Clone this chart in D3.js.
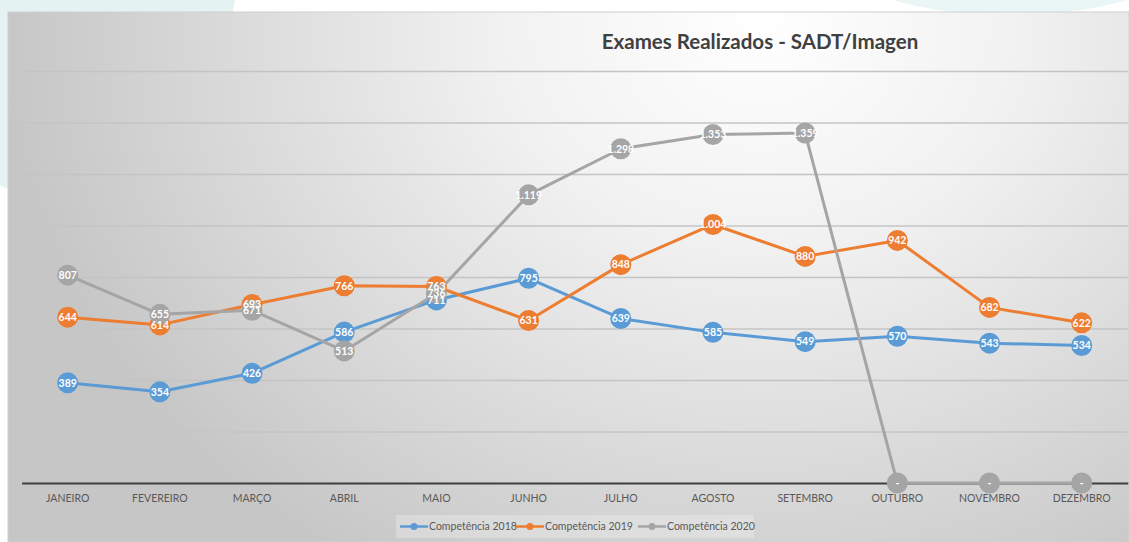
<!DOCTYPE html>
<html>
<head>
<meta charset="utf-8">
<script src="https://cdn.jsdelivr.net/npm/d3@7"></script>
<style>
  body { margin: 0; background: #fff; }
  svg { display: block; }
</style>
</head>
<body>
<svg id="chart"></svg>
<script>
// data
const months = ['JANEIRO', 'FEVEREIRO', 'MARÇO', 'ABRIL', 'MAIO', 'JUNHO',
  'JULHO', 'AGOSTO', 'SETEMBRO', 'OUTUBRO', 'NOVEMBRO', 'DEZEMBRO'];
const comp2018 = [389, 354, 426, 586, 711, 795, 639, 585, 549, 570, 543, 534];
const comp2019 = [644, 614, 693, 766, 763, 631, 848, 1004, 880, 942, 682, 622];
const comp2020 = [807, 655, 671, 513, 736, 1119, 1298, 1353, 1359, 0, 0, 0];
const seriesNames = ['Competência 2018', 'Competência 2019', 'Competência 2020'];
const yTicks = [0, 200, 400, 600, 800, 1000, 1200, 1400, 1600];
const title = 'Exames Realizados - SADT/Imagen';

const width = 1129, height = 542;
const margin = { top: 71, left: 21.6, right: 1.2, bottom: 59 };
const colors = ['#5b9bd5', '#ed7d31', '#a5a5a5'];

const series = [comp2018, comp2019, comp2020].map((vals, i) => ({
  name: seriesNames[i],
  color: colors[i],
  values: vals.map((v, j) => ({ month: months[j], value: v }))
}));

const ptBR = d3.formatLocale({ decimal: ',', thousands: '.', grouping: [3], currency: ['R$', ''] });
const fmt = v => v === 0 ? '-' : ptBR.format(',')(v);

const svg = d3.select('#chart').attr('width', width).attr('height', height);
const defs = svg.append('defs');

const bg = defs.append('radialGradient')
  .attr('id', 'bg')
  .attr('gradientUnits', 'userSpaceOnUse')
  .attr('cx', 760).attr('cy', 20).attr('r', 760)
  .attr('gradientTransform', 'translate(760,20) scale(1,0.85) translate(-760,-20)');
bg.append('stop').attr('offset', 0).attr('stop-color', '#ffffff');
bg.append('stop').attr('offset', 0.35).attr('stop-color', '#f1f1f1');
bg.append('stop').attr('offset', 1).attr('stop-color', '#c6c6c6');

// decoracao do fundo
svg.append('ellipse')
  .attr('cx', 60).attr('cy', -60).attr('rx', 180).attr('ry', 260)
  .attr('fill', '#e4f2f2');
svg.append('ellipse')
  .attr('cx', 1010).attr('cy', -40).attr('rx', 170).attr('ry', 55)
  .attr('fill', '#eaf5f5');

// caixa do grafico
svg.append('rect')
  .attr('x', 8).attr('y', 12)
  .attr('width', width - 8).attr('height', height - 12)
  .attr('fill', 'url(#bg)')
  .attr('stroke', '#d0d0d0').attr('stroke-width', 1);

const x = d3.scaleBand()
  .domain(months)
  .range([margin.left, width - margin.right])
  .padding(0);
const cx = m => x(m) + x.bandwidth() / 2;

const y = d3.scaleLinear()
  .domain([0, 1600])
  .range([height - margin.bottom, margin.top]);

// linhas de grade
const grid = d3.axisLeft(y)
  .tickValues(yTicks.slice(1))
  .tickSizeInner(-(width - margin.right - margin.left))
  .tickSizeOuter(0)
  .tickFormat('');
svg.append('g')
  .attr('transform', `translate(${margin.left},0)`)
  .call(grid)
  .call(g => g.select('.domain').remove())
  .call(g => g.selectAll('.tick line').attr('stroke', '#c4c4c4').attr('stroke-width', 1.5));

// eixo x
const axisX = d3.axisBottom(x).tickSize(0).tickPadding(12);
svg.append('g')
  .attr('transform', `translate(0,${y(0)})`)
  .call(axisX)
  .call(g => g.select('.domain').attr('stroke', '#3f3f3f').attr('stroke-width', 2))
  .call(g => g.selectAll('.tick text')
    .attr('fill', '#595959')
    .attr('font-family', 'Lato, sans-serif')
    .attr('font-size', 10.5));

// titulo
svg.append('text')
  .attr('x', 760).attr('y', 49)
  .attr('text-anchor', 'middle')
  .attr('font-family', 'Lato, sans-serif')
  .attr('font-weight', 'bold')
  .attr('font-size', 20.5)
  .attr('fill', '#404040')
  .text(title);

// series
const line = d3.line().x(d => cx(d.month)).y(d => y(d.value));
const sg = svg.selectAll('.serie')
  .data(series)
  .enter().append('g')
  .attr('class', 'serie');
sg.append('path')
  .attr('d', d => line(d.values))
  .attr('fill', 'none')
  .attr('stroke', d => d.color)
  .attr('stroke-width', 3)
  .attr('stroke-linejoin', 'round');
sg.selectAll('circle')
  .data(d => d.values.map(v => Object.assign({ color: d.color }, v)))
  .enter().append('circle')
  .attr('cx', d => cx(d.month))
  .attr('cy', d => y(d.value))
  .attr('r', 10.5)
  .attr('fill', d => d.color);

// rotulos
const lg = svg.selectAll('.rotulos')
  .data(series)
  .enter().append('g')
  .attr('class', 'rotulos');
lg.selectAll('text')
  .data(d => d.values)
  .enter().append('text')
  .attr('x', d => cx(d.month))
  .attr('y', d => y(d.value))
  .attr('dy', '0.36em')
  .attr('text-anchor', 'middle')
  .attr('font-family', 'Lato, sans-serif')
  .attr('font-weight', 'bold')
  .attr('font-size', 10.5)
  .attr('fill', '#ffffff')
  .text(d => fmt(d.value));

// legenda
const legX = [400, 516, 638];
const legY = 526.5;
svg.append('rect')
  .attr('x', 396).attr('y', 515)
  .attr('width', 358).attr('height', 23)
  .attr('fill', '#ffffff').attr('opacity', 0.25);
const leg = svg.selectAll('.leg')
  .data(series)
  .enter().append('g')
  .attr('class', 'leg')
  .attr('transform', (d, i) => `translate(${legX[i]},${legY})`);
leg.append('line')
  .attr('x1', 0).attr('x2', 28)
  .attr('stroke', d => d.color).attr('stroke-width', 2.5);
leg.append('circle')
  .attr('cx', 14).attr('r', 3.5)
  .attr('fill', d => d.color);
leg.append('text')
  .attr('x', 29).attr('dy', '0.35em')
  .attr('font-family', 'Lato, sans-serif')
  .attr('font-size', 10.5)
  .attr('fill', '#595959')
  .text(d => d.name);
</script>
</body>
</html>
